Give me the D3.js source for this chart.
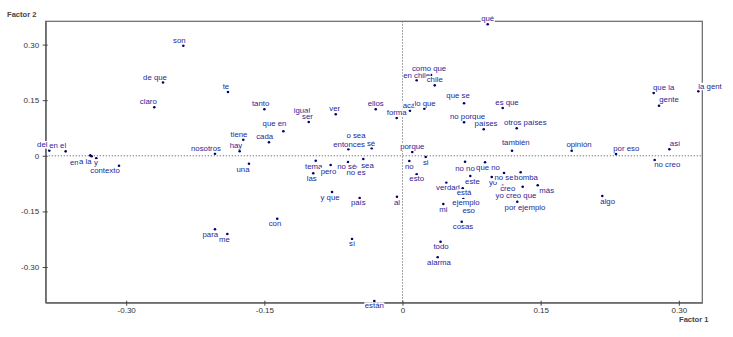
<html>
<head>
<script src="https://cdn.jsdelivr.net/npm/d3@7"></script>
<style>
  body { margin: 0; background: #fff; }
  text { font-family: "Liberation Sans", Arial, sans-serif; }
</style>
</head>
<body>
<svg id="chart" width="733" height="337"></svg>
<script>
// words and their coordinates on the two factors
const words = ["son","de que","te","claro","del","en el","en","a la","y","contexto",
  "nosotros","tiene","hay","una","para","me","qué","como que","en chile","chile",
  "tanto","igual","ser","que en","cada","ver","ellos","acá","lo que","forma",
  "que se","no porque","países","es que","otros países","también","porque","si","no","esto",
  "no no","que no","este","verdad","está","mi","ejemplo","eso","cosas","todo",
  "alarma","sí","están","con","y que","país","al","tema","las","pero",
  "no sé","no es","sea","o sea","entonces","sé","opinión","por eso","así","no creo",
  "algo","que la","gente","la gent","yo","no se","bomba","creo","yo creo que","más",
  "por ejemplo"];
const factor1 = [-0.238,-0.260,-0.1895,-0.2695,-0.3835,-0.3657,-0.339,-0.3375,-0.3325,-0.3078,
  -0.2036,-0.1729,-0.1768,-0.1667,-0.2036,-0.1902,0.0925,0.031,0.0154,0.035,
  -0.150,-0.107,-0.1018,-0.1294,-0.145,-0.0725,-0.0291,0.0081,0.0237,-0.0063,
  0.0668,0.0668,0.0882,0.1088,0.124,0.1189,0.0106,0.0252,0.0074,0.0154,
  0.0679,0.0896,0.0736,0.0476,0.0654,0.0443,0.066,0.070,0.0643,0.0413,
  0.0382,-0.0548,-0.0306,-0.136,-0.0765,-0.0465,-0.006,-0.0942,-0.0969,-0.078,
  -0.0592,-0.0505,-0.0426,-0.0494,-0.0588,-0.0334,0.1837,0.2318,0.2897,0.2738,
  0.2169,0.2727,0.2785,0.3212,0.0969,0.1102,0.1283,0.1088,0.1305,0.1468,
  0.1246];
const factor2 = [0.297,0.198,0.172,0.131,0.014,0.012,0.001,-0.0013,-0.0067,-0.0267,
  0.0057,0.0434,0.0121,-0.0213,-0.1983,-0.211,0.3547,0.218,0.2037,0.190,
  0.1254,0.1087,0.0912,0.066,0.0364,0.112,0.1254,0.1217,0.127,0.102,
  0.1416,0.0904,0.0715,0.129,0.0742,0.0138,0.0103,-0.0032,-0.014,-0.0499,
  -0.0159,-0.0175,-0.0545,-0.0726,-0.0877,-0.130,-0.1165,-0.130,-0.1778,-0.232,
  -0.2738,-0.2244,-0.3917,-0.1697,-0.0977,-0.1138,-0.1103,-0.0132,-0.0472,-0.0248,
  -0.0167,-0.0302,-0.0086,0.0359,0.0175,0.0202,0.0138,0.0049,0.0175,-0.0113,
  -0.1084,0.1694,0.1351,0.174,-0.0572,-0.0464,-0.0445,-0.0807,-0.0834,-0.0796,
  -0.1238];
const tickValues = [-0.30, -0.15, 0, 0.15, 0.30];

// label placement relative to its dot, in px (dx, dy to baseline)
const nudge = {
  "son":[-4,-3], "de que":[-8,-2.6], "te":[-2,-3.3], "claro":[-6,-3], "del":[-7,-3.5],
  "en el":[-8,-3.3], "en":[-16,9.5], "a la":[-6.4,8], "y":[-0.2,7], "contexto":[-14,7.3],
  "nosotros":[-9,-2.7], "tiene":[-4.3,-3], "hay":[-3.7,-3.3], "una":[-6,8.3], "para":[-4.7,7.7],
  "me":[-3,7.7], "qué":[0,-3.3], "como que":[-2,-3.7], "en chile":[0,-2.6], "chile":[0,-3.3],
  "tanto":[-3.8,-3], "igual":[-2,-2.5], "ser":[-1.2,-3.3], "que en":[-8.8,-5], "cada":[-4.3,-3],
  "ver":[-1,-3], "ellos":[0,-3], "acá":[-1,-2.7], "lo que":[0.7,-2.7], "forma":[0,-2.5],
  "que se":[-6,-4.8], "no porque":[3.5,-3], "países":[2.3,-3.3], "es que":[4.3,-3.3],
  "otros países":[8.6,-3], "también":[3.8,-5.4], "porque":[0,-2.7], "si":[0,7.7], "no":[0,7.7],
  "esto":[0,7], "no no":[0,9], "que no":[3,8], "este":[2.2,8], "verdad":[1.7,7], "está":[1.3,7],
  "mi":[0,8], "ejemplo":[2.7,6], "eso":[1.7,9.5], "cosas":[1.3,7.6], "todo":[0.5,7.5],
  "alarma":[1.3,7.4], "sí":[0,7.3], "están":[0,7.3], "con":[-2.3,7.6], "y que":[-2,8.3],
  "país":[-1.4,7.3], "al":[0,8], "tema":[-2,8], "las":[-1.6,7.7], "pero":[-2.2,8.7],
  "no sé":[-1.3,7.3], "no es":[0,8.5], "sea":[4.2,8.7], "o sea":[-1,-4], "entonces":[0.7,-2.5],
  "sé":[-0.7,-2.3], "opinión":[7.3,-3.4], "por eso":[10.3,-3], "así":[5.7,-3.3],
  "no creo":[12.6,7.3], "algo":[5.4,7.7], "que la":[10,-2.7], "gente":[10,-3.4],
  "la gent":[11.7,-2.6], "yo":[1.3,8], "no se":[0,7.3], "bomba":[5.3,8], "creo":[5,5.5],
  "yo creo que":[-6.7,11], "más":[9,7.4], "por ejemplo":[7.7,8]
};

const data = words.map((w, i) => ({word: w, f1: factor1[i], f2: factor2[i]}));

const svg = d3.select("#chart");
svg.append("rect").attr("width", 733).attr("height", 337).attr("fill", "#fff");

const x = d3.scaleLinear().domain([-0.3874, 0.3255]).range([45.7, 702.3]);
const y = d3.scaleLinear().domain([-0.3963, 0.3628]).range([302.7, 21.3]);
const fmt = d => d === 0 ? "0" : d.toFixed(2);
const axisColor = "#666";

// frame
svg.append("rect")
  .attr("x", x.range()[0]).attr("y", y.range()[1])
  .attr("width", x.range()[1] - x.range()[0])
  .attr("height", y.range()[0] - y.range()[1])
  .attr("fill", "none").attr("stroke", axisColor).attr("stroke-width", 1.2);

// zero reference lines
svg.append("line")
  .attr("x1", x.range()[0]).attr("x2", x.range()[1])
  .attr("y1", y(0)).attr("y2", y(0))
  .attr("stroke", "#777").attr("stroke-dasharray", "1.3,1.7");
svg.append("line")
  .attr("x1", x(0)).attr("x2", x(0))
  .attr("y1", y.range()[1]).attr("y2", y.range()[0])
  .attr("stroke", "#777").attr("stroke-dasharray", "1.3,1.7");

const gx = svg.append("g")
  .attr("transform", `translate(0,${y.range()[0]})`)
  .call(d3.axisBottom(x).tickValues(tickValues).tickSize(3).tickSizeOuter(0).tickFormat(fmt));
const gy = svg.append("g")
  .attr("transform", `translate(${x.range()[0]},0)`)
  .call(d3.axisLeft(y).tickValues(tickValues).tickSize(3).tickSizeOuter(0).tickFormat(fmt));

[gx, gy].forEach(g => {
  g.select(".domain").attr("stroke", axisColor).attr("stroke-width", 1.2);
  g.selectAll(".tick line").attr("stroke", "#444");
  g.selectAll(".tick text").attr("fill", "#333").attr("font-size", 8)
    .attr("font-family", "Liberation Sans, Arial, sans-serif");
});
gx.selectAll(".tick line").attr("y1", -2);
gx.selectAll(".tick text").attr("y", 5);
gy.selectAll(".tick line").attr("x1", 2);
gy.selectAll(".tick text").attr("x", -6.5);

// axis titles
svg.append("text").attr("x", 7).attr("y", 17)
  .attr("font-size", 7.6).attr("font-weight", "bold").attr("fill", "#444")
  .text("Factor 2");
svg.append("text").attr("x", 679).attr("y", 322)
  .attr("font-size", 7.6).attr("font-weight", "bold").attr("fill", "#444")
  .text("Factor 1");

// dots
svg.append("g").selectAll("circle")
  .data(data).enter()
  .append("circle")
  .attr("cx", d => x(d.f1))
  .attr("cy", d => y(d.f2))
  .attr("r", 1.3)
  .attr("fill", "#00006e");

// labels on white boxes
const lab = svg.append("g").selectAll("g")
  .data(data).enter()
  .append("g");

lab.append("text")
  .attr("x", d => x(d.f1) + (nudge[d.word] || [0, -3])[0])
  .attr("y", d => y(d.f2) + (nudge[d.word] || [0, -3])[1])
  .attr("text-anchor", "middle")
  .attr("font-size", 7.8)
  .attr("fill", "#1f1f96")
  .text(d => d.word);

lab.each(function() {
  const g = d3.select(this);
  const b = g.select("text").node().getBBox();
  g.insert("rect", "text")
    .attr("x", b.x - 0.5).attr("y", b.y + 1)
    .attr("width", b.width + 1).attr("height", b.height - 1.5)
    .attr("fill", "#fff");
});
</script>
</body>
</html>
